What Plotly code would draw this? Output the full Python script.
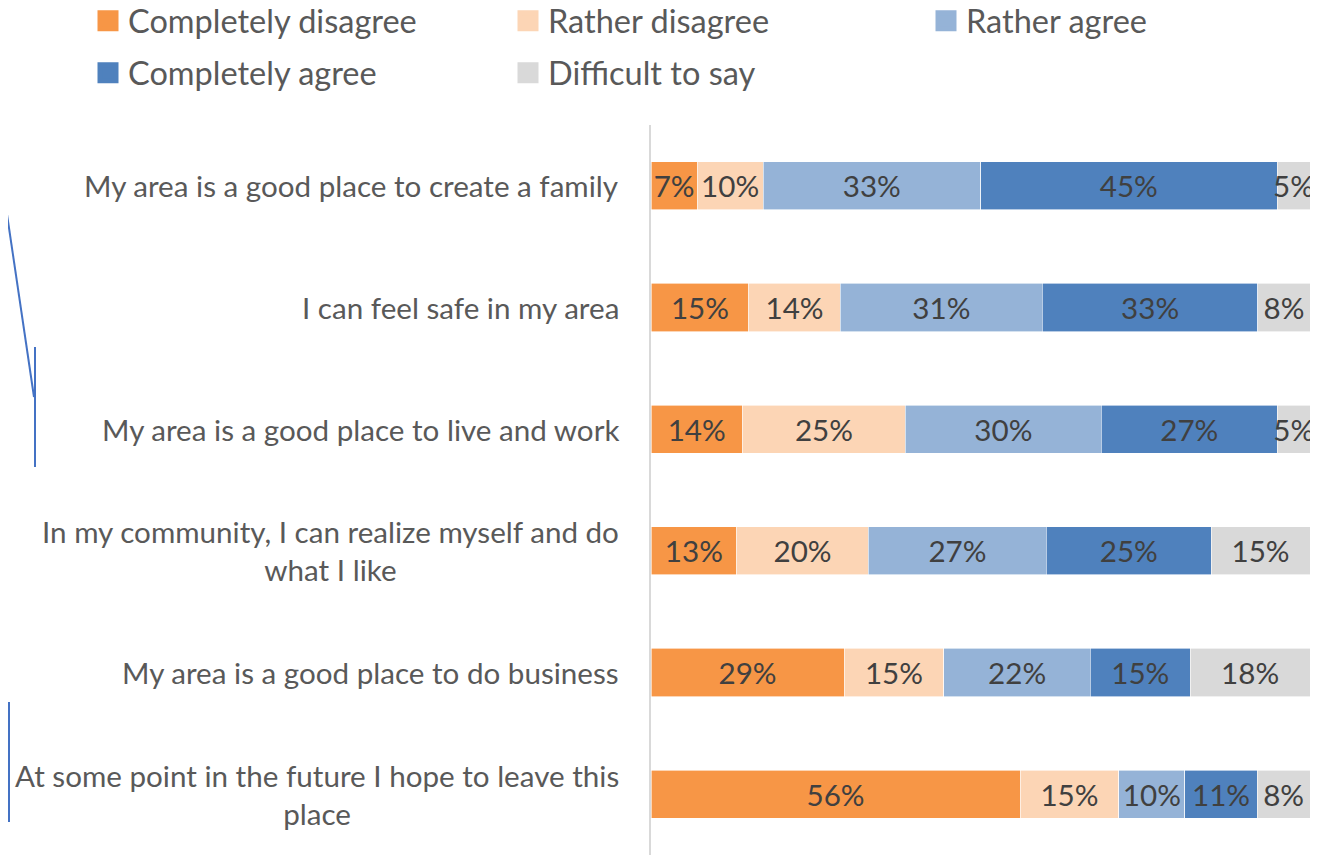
import plotly.graph_objects as go

categories = [
    "My area is a good place to create a family",
    "I can feel safe in my area",
    "My area is a good place to live and work",
    "In my community, I can realize myself and do<br>what I like",
    "My area is a good place to do business",
    "At some point in the future I hope to leave this<br>place",
]
series_names = ["Completely disagree", "Rather disagree", "Rather agree",
                "Completely agree", "Difficult to say"]
completely_disagree = [7, 15, 14, 13, 29, 56]
rather_disagree = [10, 14, 25, 20, 15, 15]
rather_agree = [33, 31, 30, 27, 22, 10]
completely_agree = [45, 33, 27, 25, 15, 11]
difficult_to_say = [5, 8, 5, 15, 18, 8]
values = [completely_disagree, rather_disagree, rather_agree,
          completely_agree, difficult_to_say]
colors = ["#F79646", "#FCD5B5", "#95B3D7", "#4F81BD", "#D9D9D9"]

FONT = "Lato"
FS = 29.6
LEG_FS = 32.5
TXT = "#404040"
LBL = "#595959"

W, H = 1317, 847  # page body adds an 8px margin

fig = go.Figure()
for i, (name, vals, col) in enumerate(zip(series_names, values, colors)):
    fig.add_trace(go.Bar(
        y=categories, x=vals, name=name, orientation="h",
        marker=dict(color=col, line=dict(color="white", width=0.6)),
        text=[f"{v}%" for v in vals], textposition="inside",
        insidetextanchor="middle", textangle=0,
        textfont=dict(family=FONT, size=FS, color=TXT),
        showlegend=False, hoverinfo="skip",
    ))

legend_names = ["legend", "legend2", "legend3", "legend4", "legend5"]
for name, col, lg in zip(series_names, colors, legend_names):
    fig.add_trace(go.Scatter(
        x=[None], y=[None], mode="markers", name=name,
        marker=dict(symbol="square", size=16, color=col,
                    line=dict(color=col, width=5)),
        legend=lg,
    ))

for cat in categories:
    fig.add_annotation(
        x=-0.045, xref="paper", y=cat, yref="y", text=cat,
        xanchor="right", yanchor="middle", align="center", showarrow=False,
        font=dict(family=FONT, size=FS, color=LBL),
    )

# stray connector lines present in the source image (decorative)
def px(xp):
    return (xp - 651) / 659
def py(yp):
    return (855 - yp) / 730
line_style = dict(color="#4472C4", width=2)
for (x0, y0, x1, y1) in [(0, 167, 34, 397), (35, 347, 35, 467),
                         (9, 702, 9, 822), (8, 712, 9, 747)]:
    fig.add_shape(type="line", xref="paper", yref="paper",
                  x0=px(x0), y0=py(y0), x1=px(x1), y1=py(y1), line=line_style)

legend_common = dict(orientation="h", xref="container", yref="container",
                     xanchor="left", yanchor="middle",
                     bgcolor="rgba(0,0,0,0)",
                     font=dict(family=FONT, size=LEG_FS, color=LBL),
                     itemsizing="trace")
leg_pos = [(80, 13), (500, 13), (918, 13), (80, 65), (500, 65)]
legends = {}
for lg, (lx, ly) in zip(legend_names, leg_pos):
    legends[lg] = dict(x=lx / W, y=1 - ly / H, **legend_common)

fig.update_layout(
    width=W, height=H,
    margin=dict(l=643, r=15, t=117, b=0),
    paper_bgcolor="white", plot_bgcolor="white",
    barmode="stack", barnorm="percent", bargap=0.605,
    xaxis=dict(range=[0, 100], visible=False, fixedrange=True),
    yaxis=dict(autorange="reversed", showticklabels=False, showgrid=False,
               showline=True, linecolor="#D9D9D9", linewidth=2, ticks="",
               zeroline=False),
    uniformtext=dict(minsize=FS, mode="show"),
    font=dict(family=FONT, color=LBL),
    **legends,
)

fig.write_html("out.html")
